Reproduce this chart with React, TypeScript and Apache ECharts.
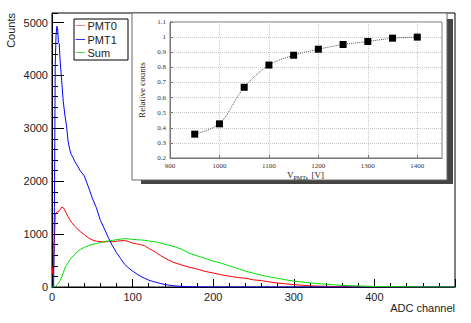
import React, { useEffect, useRef } from "react";
import * as echarts from "echarts";

const adcChannels = [
  0, 1, 2, 3, 4, 5, 6, 7, 8, 9, 10,
  12, 14, 16, 18, 20, 22, 24, 26, 28, 30,
  35, 40, 45, 50, 55, 60, 65, 70, 75, 80, 85, 90, 95, 100, 105, 110, 115, 120, 125, 130, 135, 140, 145, 150,
  160, 170, 180, 190, 200, 210, 220, 230, 240, 250, 260, 270, 280, 290, 300,
  320, 340, 360, 380, 400, 420, 440, 460, 480, 500,
];

const pmt0Counts = [
  400, 250, 380, 900, 1350, 1400, 1410, 1430, 1420, 1450, 1460,
  1510, 1500, 1450, 1390, 1330, 1280, 1220, 1190, 1150, 1120,
  1050, 990, 930, 890, 865, 860, 850, 860, 855, 865, 875, 880, 860, 830, 815, 800, 780, 730, 690, 640, 590, 550, 505, 470,
  420, 375, 340, 295, 265, 230, 205, 180, 165, 135, 120, 95, 75, 60, 45,
  22, 12, 6, 3, 2, 1, 0, 0, 0, 0,
];

const pmt1Counts = [
  0, 0, 20, 1500, 4200, 4750, 4930, 4880, 4620, 4600, 4300,
  3900, 3500, 3250, 3050, 2750, 2600, 2500, 2450, 2380, 2330,
  2200, 2100, 1900, 1680, 1500, 1260, 1100, 930, 780, 650, 540, 430, 360, 300, 250, 200, 165, 130, 105, 85, 65, 48, 35, 25,
  12, 5, 2, 1, 0, 0, 0, 0, 0, 0, 0, 0, 0, 0, 0,
  0, 0, 0, 0, 0, 0, 0, 0, 0, 0,
];

const sumCounts = [
  0, 0, 0, 5, 10, 20, 30, 50, 70, 95, 120,
  190, 270, 360, 410, 460, 510, 555, 575, 610, 650,
  710, 750, 780, 805, 820, 840, 860, 870, 880, 895, 905, 915, 910, 900, 895, 890, 883, 870, 860, 850, 830, 810, 790, 770,
  720, 640, 590, 540, 490, 450, 400, 350, 300, 260, 222, 190, 165, 135, 112,
  78, 52, 30, 20, 10, 6, 3, 1, 0, 0,
];

const seriesNames = ["PMT0", "PMT1", "Sum"];

const voltages = [950, 1000, 1050, 1100, 1150, 1200, 1250, 1300, 1350, 1400];
const relativeCounts = [0.358, 0.426, 0.668, 0.815, 0.88, 0.92, 0.951, 0.971, 0.993, 1.0];

const pairs = (xs: number[], ys: number[]) => xs.map((x, i) => [x, ys[i]]);
const plain = (v: number) => String(Math.round(v * 1000) / 1000);

export default function App() {
  const ref = useRef<HTMLDivElement>(null);

  useEffect(() => {
    if (!ref.current) return;
    const chart = echarts.init(ref.current, null, { renderer: "svg" });
    const sans = "Liberation Sans";
    const serif = "Liberation Serif";
    const txt = "#222";

    const option: any = {
      animation: false,
      backgroundColor: "#fff",
      grid: [
        { left: 52, top: 13, width: 403, height: 274, show: true, borderColor: "#000", borderWidth: 1, backgroundColor: "transparent" },
        { left: 170, top: 22, width: 272, height: 136, show: true, borderColor: "#777", borderWidth: 1, backgroundColor: "transparent", z: 30 },
      ],
      xAxis: [
        {
          type: "value", gridIndex: 0, min: 0, max: 500, interval: 100,
          axisLine: { lineStyle: { color: "#000", width: 1 } },
          axisTick: { inside: true, length: 8, lineStyle: { color: "#000" } },
          minorTick: { show: true, splitNumber: 5, length: 4, lineStyle: { color: "#000" } },
          splitLine: { show: false },
          axisLabel: { color: txt, fontSize: 11, fontFamily: sans, margin: 4, showMaxLabel: false, formatter: plain },
        },
        {
          type: "value", gridIndex: 1, min: 900, max: 1450, interval: 100, z: 35,
          axisLine: { lineStyle: { color: "#777", width: 1 } },
          axisTick: { inside: true, length: 3, lineStyle: { color: "#777" } },
          splitLine: { show: true, lineStyle: { color: "#c8c8c8", type: "dotted", width: 1 } },
          axisLabel: { color: "#333", fontSize: 7, fontFamily: serif, margin: 4, showMaxLabel: false, formatter: plain },
        },
      ],
      yAxis: [
        {
          type: "value", gridIndex: 0, min: 0, max: 5180, interval: 1000,
          axisLine: { show: true, lineStyle: { color: "#000", width: 1 } },
          axisTick: { show: true, inside: true, length: 12, lineStyle: { color: "#000" } },
          splitLine: { show: false },
          axisLabel: { color: txt, fontSize: 11, fontFamily: sans, margin: 4, showMaxLabel: false, formatter: plain },
        },
        {
          type: "value", gridIndex: 0, min: 0, max: 5180, interval: 200, position: "left",
          axisLine: { show: false },
          axisTick: { show: true, inside: true, length: 6, lineStyle: { color: "#000" } },
          splitLine: { show: false },
          axisLabel: { show: false },
        },
        {
          type: "value", gridIndex: 1, min: 0.2, max: 1.1, interval: 0.1, z: 35,
          axisLine: { show: true, lineStyle: { color: "#777", width: 1 } },
          axisTick: { show: true, inside: true, length: 3, lineStyle: { color: "#777" } },
          splitLine: { show: true, lineStyle: { color: "#c8c8c8", type: "dotted", width: 1 } },
          axisLabel: { color: "#333", fontSize: 7, fontFamily: serif, margin: 4, formatter: plain },
        },
      ],
      series: [
        { name: seriesNames[0], type: "line", xAxisIndex: 0, yAxisIndex: 0, showSymbol: false, data: pairs(adcChannels, pmt0Counts), lineStyle: { color: "#ff0000", width: 1 }, itemStyle: { color: "#ff0000" } },
        { name: seriesNames[1], type: "line", xAxisIndex: 0, yAxisIndex: 0, showSymbol: false, data: pairs(adcChannels, pmt1Counts), lineStyle: { color: "#0000ff", width: 1 }, itemStyle: { color: "#0000ff" } },
        { name: seriesNames[2], type: "line", xAxisIndex: 0, yAxisIndex: 0, showSymbol: false, data: pairs(adcChannels, sumCounts), lineStyle: { color: "#00e000", width: 1 }, itemStyle: { color: "#00e000" } },
        {
          name: "Relative counts", type: "line", xAxisIndex: 1, yAxisIndex: 2, z: 40,
          data: pairs(voltages, relativeCounts), smooth: 0.3,
          symbol: "rect", symbolSize: 7,
          itemStyle: { color: "#000" },
          lineStyle: { color: "#555", width: 1, type: "dotted" },
        },
      ],
      graphic: [
        { type: "rect", z: 20, shape: { x: 141, y: 19, width: 312, height: 165 }, style: { fill: "#444" } },
        { type: "rect", z: 21, shape: { x: 132, y: 13, width: 315, height: 167 }, style: { fill: "#fff", stroke: "#666", lineWidth: 1 } },
        { type: "text", z: 45, x: 142, y: 90, rotation: Math.PI / 2, style: { text: "Relative counts", font: `9px "${serif}"`, fill: "#222", align: "center", verticalAlign: "middle" } },
        { type: "text", z: 45, x: 287, y: 175, style: { text: "V", font: `9px "${serif}"`, fill: "#222", align: "left", verticalAlign: "middle" } },
        { type: "text", z: 45, x: 293.5, y: 177.5, style: { text: "PMTs", font: `6px "${serif}"`, fill: "#222", align: "left", verticalAlign: "middle" } },
        { type: "text", z: 45, x: 311.5, y: 175, style: { text: "[V]", font: `9px "${serif}"`, fill: "#222", align: "left", verticalAlign: "middle" } },
        { type: "text", x: 11, y: 13, rotation: Math.PI / 2, style: { text: "Counts", font: `11px "${sans}"`, fill: txt, align: "right", verticalAlign: "middle" } },
        { type: "text", x: 455, y: 307.5, style: { text: "ADC channel", font: `11px "${sans}"`, fill: txt, align: "right", verticalAlign: "middle" } },
        { type: "rect", z: 20, shape: { x: 74, y: 19, width: 54, height: 41 }, style: { fill: "#fff", stroke: "#000", lineWidth: 1 } },
        { type: "line", z: 21, shape: { x1: 75.5, y1: 25.5, x2: 85, y2: 25.5 }, style: { stroke: "#ff8080", lineWidth: 1 } },
        { type: "line", z: 21, shape: { x1: 75.5, y1: 39.5, x2: 85, y2: 39.5 }, style: { stroke: "#3030ff", lineWidth: 1 } },
        { type: "line", z: 21, shape: { x1: 75.5, y1: 52.5, x2: 85, y2: 52.5 }, style: { stroke: "#50e050", lineWidth: 1 } },
        { type: "text", z: 21, x: 87.5, y: 25.5, style: { text: seriesNames[0], font: `11px "${sans}"`, fill: txt, verticalAlign: "middle" } },
        { type: "text", z: 21, x: 87.5, y: 39.5, style: { text: seriesNames[1], font: `11px "${sans}"`, fill: txt, verticalAlign: "middle" } },
        { type: "text", z: 21, x: 87.5, y: 52.5, style: { text: seriesNames[2], font: `11px "${sans}"`, fill: txt, verticalAlign: "middle" } },
      ],
    };
    chart.setOption(option);
    return () => chart.dispose();
  }, []);

  return <div ref={ref} style={{ position: "absolute", left: 0, top: 0, width: 471, height: 323, background: "#fff" }} />;
}
